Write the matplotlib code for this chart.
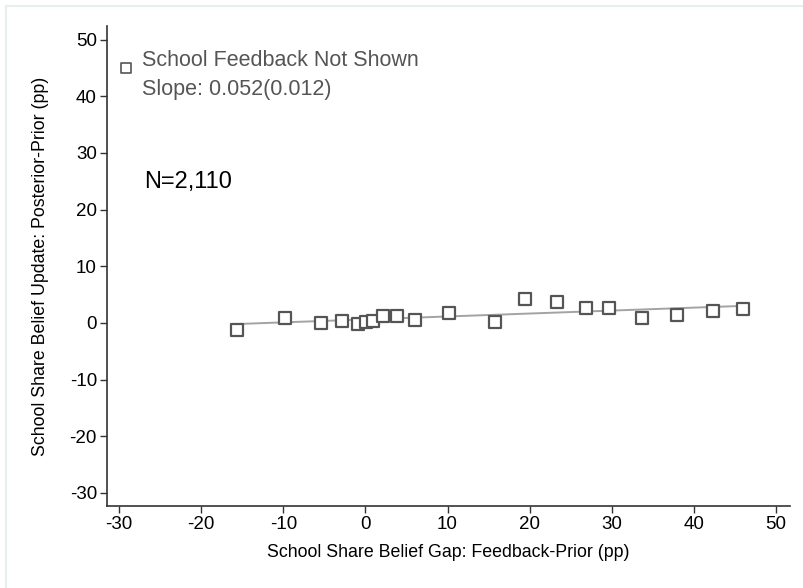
import numpy as np
import matplotlib.pyplot as plt
from matplotlib.lines import Line2D

plt.rcParams['font.family'] = ['Liberation Sans Narrow', 'Liberation Sans', 'DejaVu Sans']
plt.rcParams['axes.unicode_minus'] = False

# binned scatter: belief gap vs belief update (feedback not shown)
gap = [-15.6, -9.8, -5.4, -2.8, -0.9, 0.05, 0.9, 2.2, 3.8, 6.0,
       10.2, 15.8, 19.4, 23.3, 26.8, 29.7, 33.7, 38.0, 42.3, 46.0]
update = [-1.25, 0.81, 0.04, 0.28, -0.14, 0.16, 0.34, 1.27, 1.22, 0.51,
          1.75, 0.11, 4.16, 3.74, 2.68, 2.68, 0.81, 1.39, 2.15, 2.45]

slope = 0.052
slope_se = 0.012
intercept = 0.62
n_obs = '2,110'

xticks = [-30, -20, -10, 0, 10, 20, 30, 40, 50]
yticks = [-30, -20, -10, 0, 10, 20, 30, 40, 50]

fig = plt.figure(figsize=(8.04, 5.88), dpi=100)
ax = fig.add_axes([0.1327, 0.1395, 0.8499, 0.8163])

# faint slide frame
fig.add_artist(Line2D([6/804, 6/804], [0, 1 - 6/588], color='#e6eeee', lw=1.5))
fig.add_artist(Line2D([6/804, 1], [1 - 6/588, 1 - 6/588], color='#e6eeee', lw=1.5))

xs = np.array([min(gap), max(gap)])
ax.plot(xs, intercept + slope * xs, color='#a3a3a3', lw=1.4, zorder=2)
ax.scatter(gap, update, marker='s', s=64, facecolors='white',
           edgecolors='#555555', linewidths=1.6, zorder=3)

ax.set_xlim(-31.5, 51.7)
ax.set_ylim(-32.3, 52.4)
ax.set_xticks(xticks)
ax.set_yticks(yticks)
ax.tick_params(labelsize=13.5, length=5, width=1, color='#333333', pad=2)

for s in ['top', 'right']:
    ax.spines[s].set_visible(False)
for s in ['left', 'bottom']:
    ax.spines[s].set_color('#333333')
    ax.spines[s].set_linewidth(1.2)

ax.set_xlabel('School Share Belief Gap: Feedback-Prior (pp)', fontsize=12.8, labelpad=8)
ax.set_ylabel('School Share Belief Update: Posterior-Prior (pp)', fontsize=12.8, labelpad=15)

# legend-style annotation
ax.scatter([-29.2], [44.9], marker='s', s=45, facecolors='white',
           edgecolors='#555555', linewidths=1.2, clip_on=False)
ax.text(-27.2, 46.3, 'School Feedback Not Shown', fontsize=15.5, color='#555555', va='center')
ax.text(-27.2, 41.2, 'Slope: %.3f(%.3f)' % (slope, slope_se), fontsize=15.5,
        color='#555555', va='center')
ax.text(-27.0, 24.9, 'N=' + n_obs, fontsize=17, color='black', va='center')

fig.savefig('out.png', dpi=100)
